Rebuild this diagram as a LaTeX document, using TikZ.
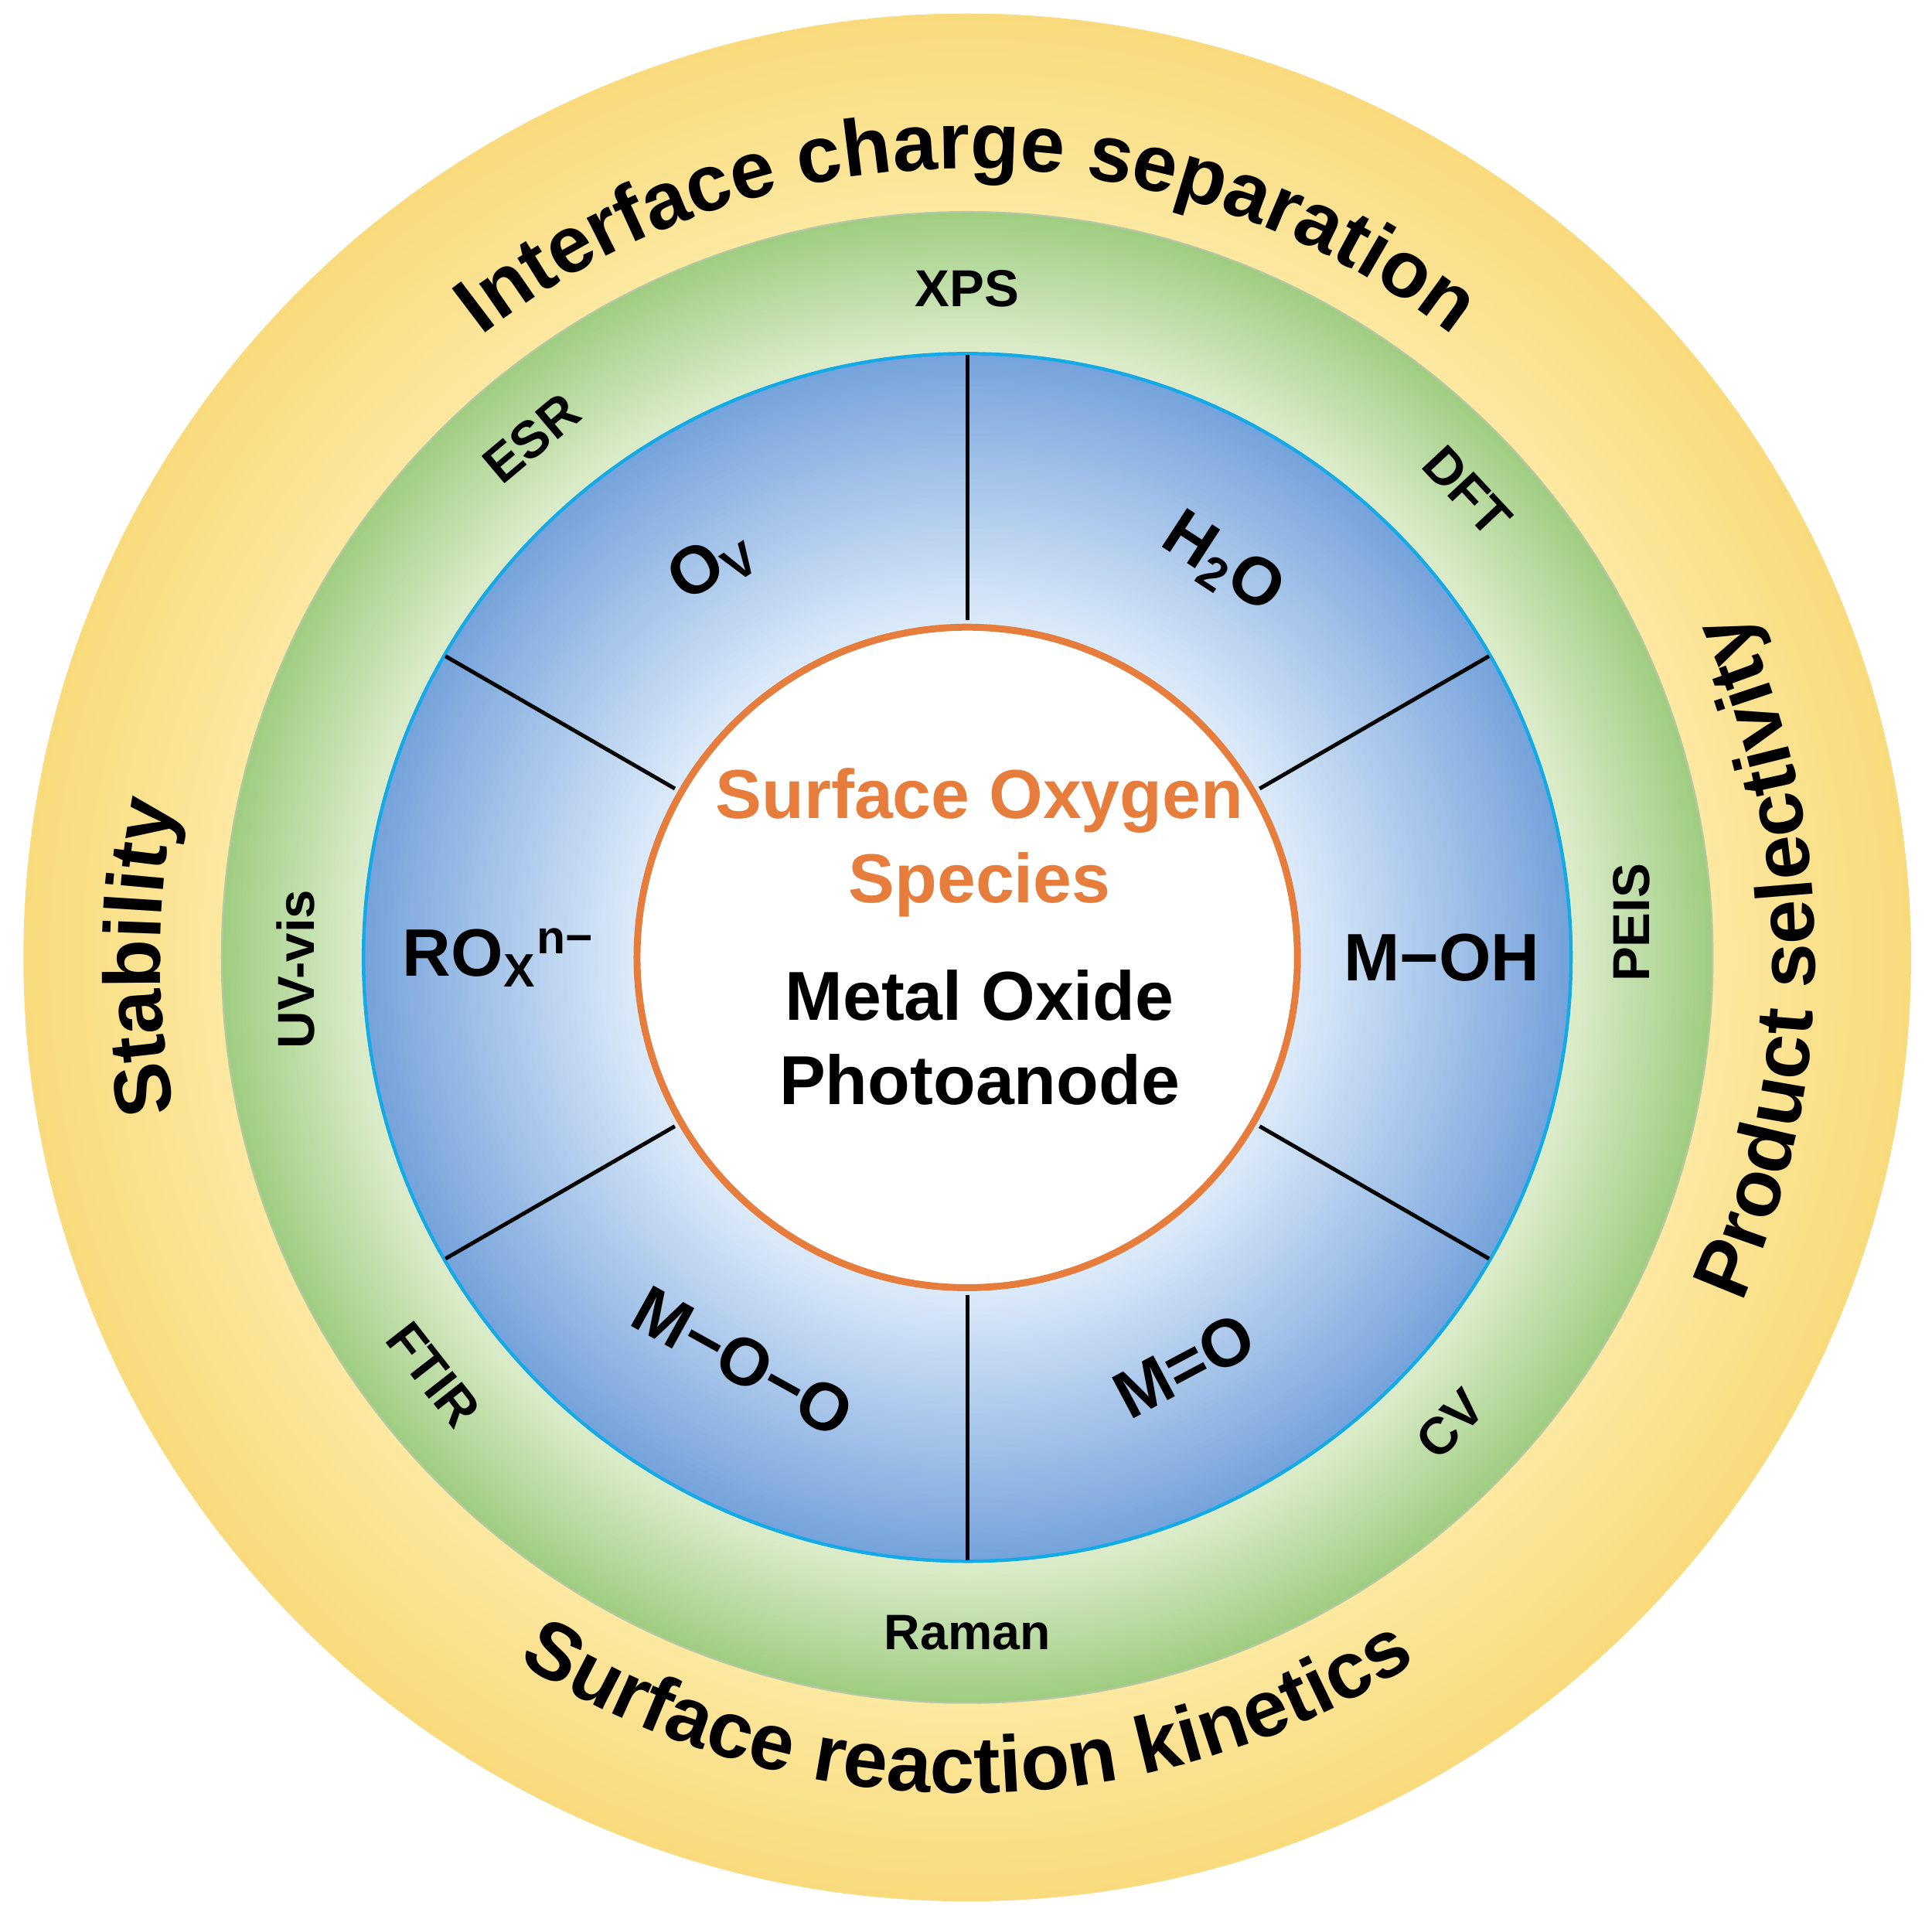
\documentclass[tikz,border=0pt]{standalone}
\usepackage{fontspec}
\setmainfont{Liberation Sans}
\usetikzlibrary{decorations.text}
\definecolor{yel0}{RGB}{249,219,125}
\definecolor{yel1}{RGB}{252,232,160}
\definecolor{grn0}{RGB}{160,205,130}
\definecolor{grn1}{RGB}{222,237,205}
\definecolor{blu0}{RGB}{118,163,219}
\definecolor{blu1}{RGB}{222,236,250}
\definecolor{cyanedge}{RGB}{20,170,230}
\definecolor{orng}{RGB}{230,125,60}
\begin{document}
\begin{tikzpicture}
\useasboundingbox (-78.5mm,-78mm) rectangle (78.3mm,77.7mm);
\tikzset{
 ring/.style={font=\bfseries\fontsize{12}{14}\selectfont},
 spec/.style={font=\bfseries\fontsize{15.5}{18}\selectfont},
 arctext/.style={decorate,decoration={text along path,text align=center,
   text={|\bfseries\fontsize{18.5}{21}\selectfont|#1}}},
 spoke/.style={line width=0.9pt,black}
}
% yellow ring
\foreach \i in {0,...,30}{
 \pgfmathsetmacro\r{76.6-\i*(76.6-60.5)/30}
 \pgfmathsetmacro\t{100*\i/30}
 \fill[yel1!\t!yel0] (0,0) circle (\r mm);}
% green ring
\foreach \i in {0,...,40}{
 \pgfmathsetmacro\r{60.5-\i*(60.5-49)/40}
 \pgfmathsetmacro\t{100*\i/40}
 \fill[grn1!\t!grn0] (0,0) circle (\r mm);}
\draw[grn0!80!black!60,line width=0.4pt] (0,0) circle (60.5mm);
% blue ring
\foreach \i in {0,...,50}{
 \pgfmathsetmacro\r{49-\i*(49-26.8)/50}
 \pgfmathsetmacro\t{100*\i/50}
 \fill[blu1!\t!blu0] (0,0) circle (\r mm);}
\draw[cyanedge,line width=0.8pt] (0,0) circle (49mm);
% centre
\fill[white] (0,0) circle (26.8mm);
\draw[orng,line width=1.6pt] (0,0) circle (26.8mm);
% spokes
\foreach \a in {90,30,150,210,270,330}{
 \coordinate (si\a) at (\a:27.4mm);
 \coordinate (so\a) at (\a:48.9mm);
 \draw[spoke] (si\a) -- (so\a);}
% centre text
\node[text=orng,font=\bfseries\fontsize{16}{19.5}\selectfont,align=center] (sos) at (1mm,9.3mm) {Surface Oxygen\\Species};
\node[font=\bfseries\fontsize{16}{19.5}\selectfont,align=center] (mop) at (1mm,-6.5mm) {Metal Oxide\\Photoanode};
% species
\node[spec,rotate=33] (ov) at (123:38mm) {O\textsubscript{V}};
\node[spec,rotate=-33] (h2o) at (57:38mm) {H\textsubscript{2}O};
\node[spec] (moh) at (0:38.5mm) {M−OH};
\node[spec] (rox) at (180:38mm) {RO\textsubscript{X}\textsuperscript{n−}};
\node[spec,rotate=28] (mdo) at (-62:37.5mm) {M=O};
\node[spec,rotate=-29] (moo) at (241:37.5mm) {M−O−O};
% techniques
\node[ring] (xps) at (90:54.3mm) {XPS};
\node[ring,rotate=-47] (dft) at (43:55.5mm) {DFT};
\node[ring,rotate=40] (esr) at (130:55mm) {ESR};
\node[ring,rotate=90] (peis) at (3:54mm) {PEIS};
\node[ring,rotate=90] (uvv) at (181:54.5mm) {UV-vis};
\node[ring,rotate=46] (cv) at (-44:54.5mm) {CV};
\node[ring,rotate=-52] (ftir) at (218:55mm) {FTIR};
\node[ring,font=\bfseries\fontsize{11.5}{14}\selectfont] (ram) at (270:54.8mm) {Raman};
% outer arc texts
\path[arctext={Interface charge separation}] (170:64mm) arc (170:10:64mm);
\path[arctext={Product selectivity}] (-45:68.8mm) arc (-45:45:68.8mm);
\path[arctext={Stability}] (215:65.5mm) arc (215:145:65.5mm);
\path[arctext={Surface reaction kinetics}] (200:67.8mm) arc (200:340:67.8mm);
\end{tikzpicture}
\end{document}
